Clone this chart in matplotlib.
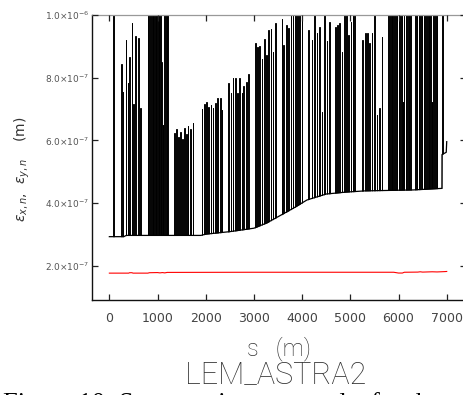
import numpy as np
import matplotlib
matplotlib.use("Agg")
import matplotlib.pyplot as plt
from matplotlib.ticker import FixedLocator, FuncFormatter

# ---- data -----------------------------------------------------------------
# slow baseline of the normalized emittance along the line (s in m, emittance in m)
base_s = [0, 300, 350, 1900, 2000, 2500, 3000, 3270, 3540, 3820, 4100, 4500,
          4900, 5300, 6300, 6900, 6902, 6990, 7000]
base_eps = [2.93e-7, 2.93e-7, 2.97e-7, 2.97e-7, 3.01e-7, 3.09e-7, 3.20e-7,
            3.37e-7, 3.60e-7, 3.84e-7, 4.10e-7, 4.29e-7, 4.35e-7, 4.39e-7,
            4.42e-7, 4.47e-7, 5.55e-7, 5.62e-7, 5.96e-7]

# emittance spikes, one list per bunch of spikes (positions in m)
spike_s = [
    [75],
    [243, 278, 340, 381, 415, 465, 498, 540, 602, 643],
    [800, 832, 864, 896, 928, 960, 992, 1024, 1056, 1080, 1110, 1142, 1175, 1205],
    [1350, 1390, 1430, 1470, 1510, 1550, 1590, 1630, 1680, 1730],
    [1917, 1966, 2007, 2055, 2104, 2145, 2194, 2242, 2297, 2332],
    [2470, 2518, 2560, 2608, 2657, 2698, 2746, 2781, 2836, 2885],
    [3023, 3071, 3113, 3161, 3210, 3251, 3300, 3348, 3389, 3438],
    [3577, 3612, 3667, 3716, 3764, 3806, 3854, 3902, 3944, 3992],
    [4130, 4200, 4248, 4303, 4358, 4406, 4455, 4510, 4565],
    [4683, 4731, 4773, 4822, 4870, 4911, 4960, 5008, 5050, 5078],
    [5251, 5306, 5354, 5396, 5444, 5493, 5548, 5603, 5652],
    [5790, 5825, 5860, 5895, 5930, 5965, 6000, 6035, 6070, 6087, 6110, 6145,
     6180, 6215, 6240],
    [6345, 6380, 6415, 6450, 6485, 6520, 6555, 6590, 6625, 6660, 6689, 6725,
     6760, 6793],
    [6905],
]
# spike peak values in units of 1e-7 m (13 = runs off the top of the plot)
spike_peak = [
    [13],
    [8.43, 7.53, 9.20, 7.82, 8.65, 9.73, 7.16, 9.34, 9.28, 7.04],
    [13, 13, 13, 13, 13, 13, 13, 13, 13, 8.5, 6.5, 13, 13, 13],
    [6.25, 6.35, 6.10, 6.28, 6.05, 6.38, 6.22, 6.45, 6.35, 6.55],
    [6.99, 7.16, 7.23, 7.06, 7.13, 7.02, 7.18, 7.36, 7.36, 6.97],
    [7.82, 7.52, 7.98, 7.98, 7.50, 7.98, 7.50, 7.73, 7.87, 8.12],
    [9.10, 8.97, 9.00, 8.59, 9.22, 8.72, 9.52, 9.54, 8.83, 9.76],
    [9.87, 9.04, 9.68, 9.57, 13, 13, 13, 13, 13, 13],
    [9.52, 9.20, 13, 9.42, 9.63, 6.92, 13, 9.18, 9.79],
    [9.61, 9.68, 9.73, 8.83, 13, 13, 9.36, 9.79, 13, 13],
    [9.20, 9.42, 9.42, 9.10, 9.42, 13, 6.81, 7.02, 9.31],
    [13, 13, 13, 13, 13, 13, 13, 13, 13, 7.23, 13, 13, 13, 13, 13],
    [13, 13, 13, 13, 13, 13, 13, 13, 13, 13, 7.23, 13, 13, 13],
    [13],
]

# vertical normalized emittance
ey_s = [0, 400, 420, 470, 490, 800, 830, 1000, 1050, 1100, 1150, 1200, 3000,
        5900, 6000, 6080, 6120, 6400, 6450, 6500, 6700, 6800, 6950, 7000]
ey_eps = [1.767e-7, 1.767e-7, 1.78e-7, 1.78e-7, 1.767e-7, 1.767e-7, 1.78e-7,
          1.785e-7, 1.775e-7, 1.785e-7, 1.775e-7, 1.79e-7, 1.795e-7, 1.795e-7,
          1.77e-7, 1.77e-7, 1.795e-7, 1.80e-7, 1.81e-7, 1.80e-7, 1.81e-7,
          1.805e-7, 1.815e-7, 1.82e-7]

x_ticks = [0, 1000, 2000, 3000, 4000, 5000, 6000, 7000]
y_ticks = [2e-7, 4e-7, 6e-7, 8e-7, 1e-6]

# ---- figure ---------------------------------------------------------------
W, H = 463, 395
fig = plt.figure(figsize=(W / 100, H / 100), dpi=100)
ax = fig.add_axes([92 / W, 95 / H, 374 / W, 285 / H])
ax.set_xlim(-360, 7400)
ax.set_ylim(0.91e-7, 1.0e-6)

spike_w = 12.0
for xs, peaks in zip(spike_s, spike_peak):
    for x0, p in zip(xs, peaks):
        ax.plot([x0, x0, x0 + spike_w, x0 + spike_w], [0, p * 1e-7, p * 1e-7, 0],
                color="black", lw=0.7, zorder=1, solid_joinstyle="miter")

# blank out the spike feet below the baseline, then draw the baseline itself
ax.fill_between(base_s, 0, base_eps, color="white", lw=0, zorder=2)
ax.plot(base_s, base_eps, color="black", lw=0.9, zorder=3)
ax.plot(ey_s, ey_eps, color="red", lw=0.8, zorder=4)

ax.set_axisbelow(False)
for side in ("left", "bottom"):
    ax.spines[side].set_color("#111111")
    ax.spines[side].set_linewidth(1.0)
for side in ("top", "right"):
    ax.spines[side].set_color("#999999")
    ax.spines[side].set_linewidth(0.9)

ax.xaxis.set_major_locator(FixedLocator(x_ticks))
ax.yaxis.set_major_locator(FixedLocator(y_ticks))


def sci(v, _):
    e = int(np.floor(np.log10(v) + 1e-9))
    m = v / 10 ** e
    return r"$%.1f{\times}10^{%d}$" % (m, e)


ax.yaxis.set_major_formatter(FuncFormatter(sci))
ax.tick_params(axis="both", which="major", direction="in", length=4,
               width=0.9, color="#222222")
ax.tick_params(axis="x", top=True, labelsize=9, labelcolor="#444444", pad=9)
ax.tick_params(axis="y", right=True, labelsize=6.5, labelcolor="#555555", pad=2)
for t in ax.xaxis.get_ticklines()[1::2]:
    t.set_color("#999999")
for t in ax.yaxis.get_ticklines()[1::2]:
    t.set_color("#999999")

ax.set_ylabel(r"$\varepsilon_{x,n}$,  $\varepsilon_{y,n}$    (m)", fontsize=10,
              color="#333333")
ax.yaxis.set_label_coords(-0.16, 0.46)

fig.text(279 / W, 1 - 349 / H, "s   (m)", ha="center", va="center",
         fontsize=17, color="#333333", family="Roboto", weight="light")
fig.text(276 / W, 1 - 375 / H, "LEM_ASTRA2", ha="center", va="center",
         fontsize=22, color="#333333", family="Roboto", weight="light")
fig.text(3 / W, 1 - 410 / H, "Figure 10: Some emittance results for the",
         ha="left", va="baseline", fontsize=19, color="black",
         family="Liberation Serif")

fig.savefig("out.png", dpi=100)
